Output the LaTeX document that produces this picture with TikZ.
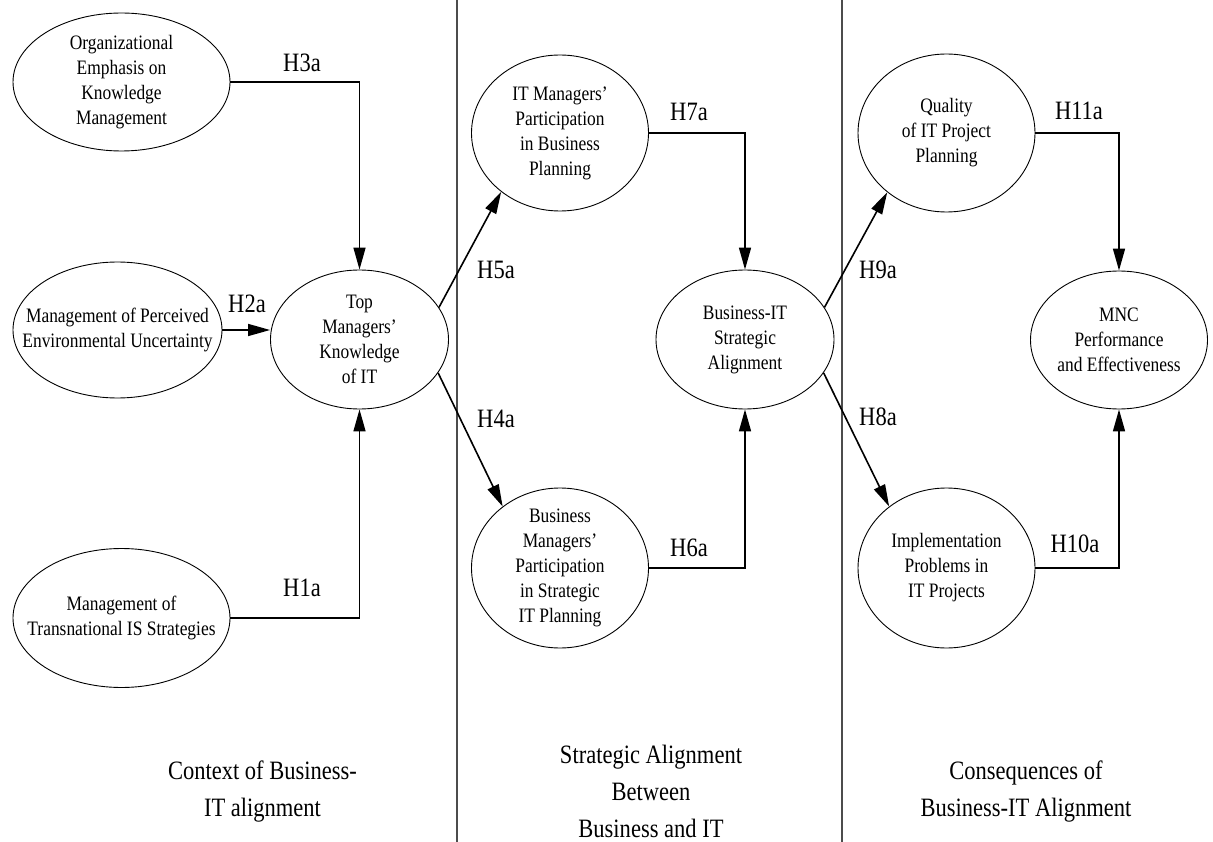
\documentclass[tikz,border=0pt]{standalone}
\usepackage{fontspec}
\setmainfont{Liberation Serif}[FakeStretch=0.85]
\usetikzlibrary{shapes.geometric,arrows.meta}
\newcommand\ellfont{\fontsize{20.5}{25}\selectfont}
\newcommand\hypfont{\fontsize{26.5}{30}\selectfont}
\newcommand\capfont{\fontsize{26.5}{37}\selectfont}

\begin{document}
\begin{tikzpicture}[x=1pt, y=-1pt,
  construct/.style n args={3}{draw, ellipse, line width=0.9pt, inner sep=0pt,
    minimum width=#1, minimum height=#2,
    label={[font=\ellfont, align=center]center:#3}},
  hyp/.style={font=\hypfont, inner sep=0pt},
  capt/.style={font=\capfont, align=center, inner sep=0pt},
  link/.style={line width=1.6pt, -{Triangle[length=22pt, width=12pt]}},
  divider/.style={line width=2pt, black!70}]
\useasboundingbox (0,0) rectangle (1213,842);
\draw[divider] (456.5,0) -- (456.5,842);
\draw[divider] (842,0) -- (842,842);
\node[construct={217}{138}{Organizational\\Emphasis on\\Knowledge\\Management}] (oekm) at (121.5,82) {};
\node[construct={209}{136}{Management of Perceived\\Environmental Uncertainty}] (mpe) at (117.5,330) {};
\node[construct={217}{139}{Management of\\Transnational IS Strategies}] (trans) at (121.5,618) {};
\node[construct={178}{139}{Top\\Managers'\\Knowledge\\of IT}] (tm) at (359.5,339.5) {};
\node[construct={177}{156}{IT Managers'\\Participation\\in Business\\Planning}] (itm) at (560,133) {};
\node[construct={177}{160}{Business\\Managers'\\Participation\\in Strategic\\IT Planning}] (bmp) at (560,568) {};
\node[construct={178}{139}{Business-IT\\Strategic\\Alignment}] (bit) at (745,339.5) {};
\node[construct={177}{158}{Quality\\of IT Project\\Planning}] (qual) at (946.5,133) {};
\node[construct={177}{160}{Implementation\\Problems in\\IT Projects}] (impl) at (946.5,568) {};
\node[construct={177}{138}{MNC\\Performance\\and Effectiveness}] (mnc) at (1119,340) {};
\node[hyp] (h3a) at (302,63) {H3a};
\node[hyp] (h2a) at (247,304) {H2a};
\node[hyp] (h1a) at (302,588) {H1a};
\node[hyp] (h5a) at (496,270) {H5a};
\node[hyp] (h4a) at (496,419) {H4a};
\node[hyp] (h7a) at (689,112) {H7a};
\node[hyp] (h6a) at (689,548) {H6a};
\node[hyp] (h9a) at (878,270) {H9a};
\node[hyp] (h8a) at (878,417) {H8a};
\node[hyp] (h11a) at (1079,111) {H11a};
\node[hyp] (h10a) at (1075,544) {H10a};
\draw[link] (oekm.east) -| (tm.north);
\draw[link] (mpe.east) -- (mpe.east -| tm.west);
\draw[link] (trans.east) -| (tm.south);
\draw[link] (tm.22.5) -- (itm.225);
\draw[link] (tm.337.5) -- (bmp.133);
\draw[link] (itm.east) -| (bit.north);
\draw[link] (bmp.east) -| (bit.south);
\draw[link] (bit.22.5) -- (qual.225);
\draw[link] (bit.337.5) -- (impl.133);
\draw[link] (qual.east) -| (mnc.north);
\draw[link] (impl.east) -| (mnc.south);
\node[capt] (ctx) at (262.5,792) {Context of Business-\\IT alignment};
\node[capt] (sab) at (651,791) {Strategic Alignment\\Between\\Business and IT};
\node[capt] (cba) at (1026,792) {Consequences of\\Business-IT Alignment};
\end{tikzpicture}
\end{document}
